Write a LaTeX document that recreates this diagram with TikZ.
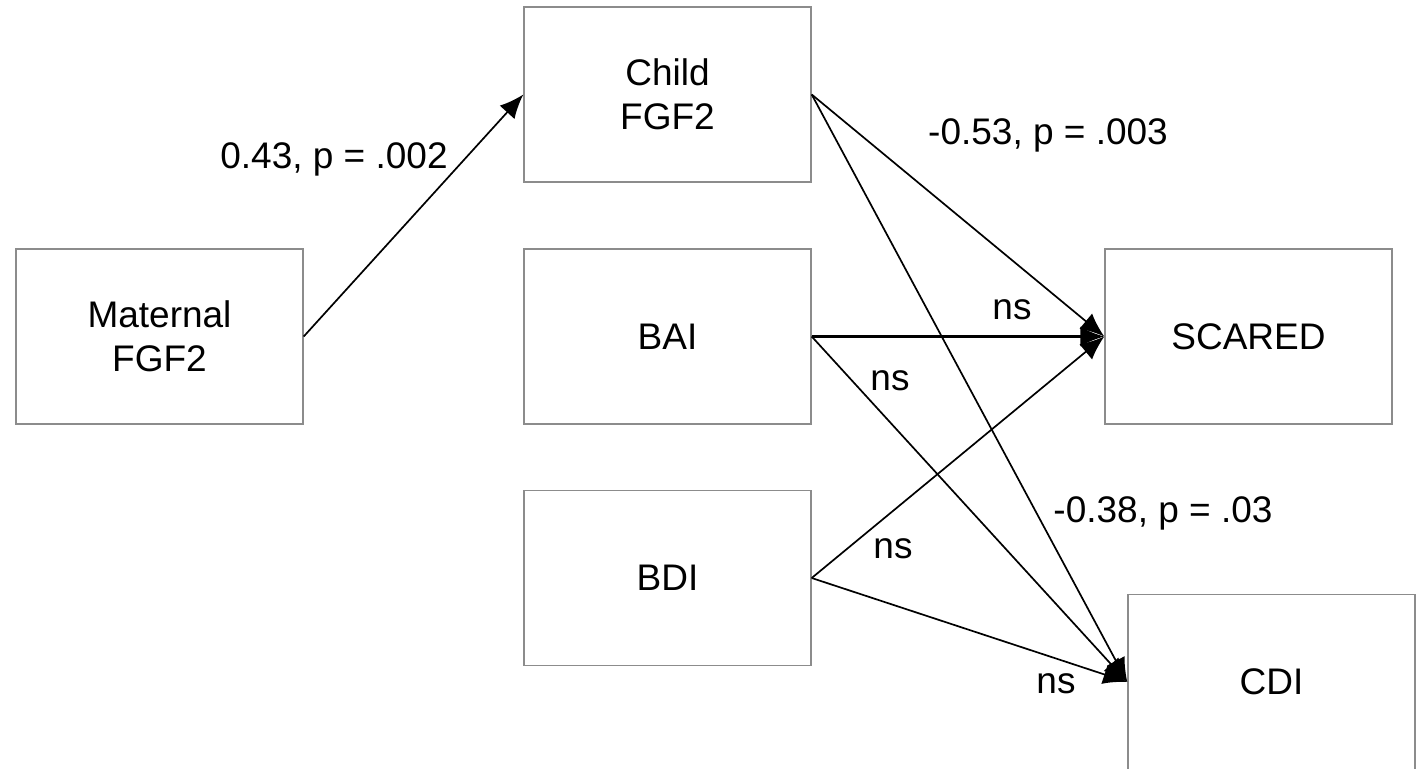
\documentclass[tikz,border=0pt]{standalone}
\usepackage{fontspec}
\setmainfont{Liberation Sans}
\usetikzlibrary{arrows.meta}
\begin{document}
\begin{tikzpicture}[x=1pt,y=-1pt,
  box/.style={draw=black!45,line width=1.4pt,fill=white,minimum width=287pt,minimum height=175pt,inner sep=0pt,align=center,font=\fontsize{37}{44}\selectfont},
  lbl/.style={font=\fontsize{37}{44}\selectfont,inner sep=0pt},
  conn/.style={line width=1.7pt,-{Latex[length=24pt,width=20pt]}}]
\useasboundingbox (0,0) rectangle (1420,768);
\begin{scope}
\clip (0,0) rectangle (1420,768);
\node[box] (mat) at (159.5,336.5) {Maternal\\FGF2};
\node[box] (child) at (667.5,94.5) {Child\\FGF2};
\node[box] (bai) at (667.5,336.5) {BAI};
\node[box] (bdi) at (667.5,578) {BDI};
\node[box] (scared) at (1248.5,336.5) {SCARED};
\node[box] (cdi) at (1271.5,682) {CDI};
\end{scope}
\draw[conn] (mat.east) -- (child.west);
\draw[conn] (child.east) -- (scared.west);
\draw[conn,line width=2.4pt] (bai.east) -- (scared.west);
\draw[conn] (bdi.east) -- (scared.west);
\draw[conn] (child.east) -- (cdi.west);
\draw[conn] (bai.east) -- (cdi.west);
\draw[conn] (bdi.east) -- (cdi.west);
\node[lbl] (l1) at (334,159) {0.43, p = .002};
\node[lbl] (l2) at (1048,135) {-0.53, p = .003};
\node[lbl] (l3) at (1012,310) {ns};
\node[lbl] (l4) at (890,381) {ns};
\node[lbl] (l5) at (1163,513) {-0.38, p = .03};
\node[lbl] (l6) at (893,549) {ns};
\node[lbl] (l7) at (1056,684) {ns};
\end{tikzpicture}
\end{document}
